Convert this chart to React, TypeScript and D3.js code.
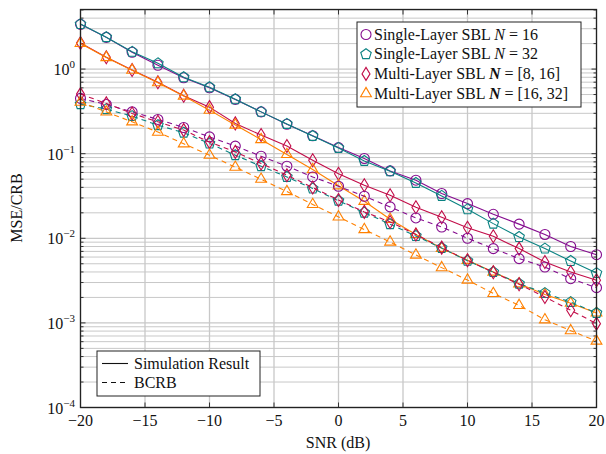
import * as d3 from 'd3'

const snr = [-20, -18, -16, -14, -12, -10, -8, -6, -4, -2, 0, 2, 4, 6, 8, 10, 12, 14, 16, 18, 20]

// simulation results (solid)
const sl16Sim = [3.38, 2.37, 1.58, 1.11, 0.789, 0.601, 0.438, 0.312, 0.223, 0.163, 0.118, 0.0878, 0.0626, 0.0486, 0.0338, 0.0257, 0.0192, 0.0147, 0.0111, 0.0080, 0.0064]
const sl32Sim = [3.40, 2.38, 1.60, 1.17, 0.80, 0.61, 0.44, 0.312, 0.225, 0.162, 0.117, 0.082, 0.062, 0.0451, 0.0317, 0.0220, 0.0149, 0.01035, 0.00755, 0.00539, 0.00388]
const ml816Sim = [2.03, 1.38, 0.975, 0.70, 0.485, 0.355, 0.228, 0.166, 0.123, 0.0838, 0.058, 0.0424, 0.0323, 0.0233, 0.0177, 0.0133, 0.01056, 0.00755, 0.00525, 0.00399, 0.00319]
const ml1632Sim = [2.01, 1.37, 0.97, 0.69, 0.48, 0.327, 0.218, 0.147, 0.098, 0.065, 0.0418, 0.0274, 0.0168, 0.0111, 0.00762, 0.0055, 0.00399, 0.0029, 0.00217, 0.00171, 0.00131]

// BCRB (dashed)
const sl16Crb = [0.450, 0.382, 0.312, 0.254, 0.204, 0.158, 0.123, 0.0934, 0.0711, 0.0531, 0.0412, 0.0314, 0.0235, 0.0174, 0.0136, 0.0100, 0.00755, 0.00575, 0.00457, 0.00333, 0.00261]
const sl32Crb = [0.385, 0.336, 0.278, 0.217, 0.177, 0.132, 0.096, 0.0711, 0.0531, 0.0387, 0.0278, 0.0201, 0.0147, 0.01064, 0.00767, 0.00542, 0.00399, 0.00291, 0.00225, 0.00176, 0.00131]
const ml816Crb = [0.506, 0.393, 0.299, 0.238, 0.190, 0.137, 0.105, 0.0766, 0.0557, 0.0398, 0.0284, 0.0205, 0.0156, 0.0111, 0.00776, 0.00549, 0.00396, 0.00286, 0.00202, 0.00141, 0.00098]
const ml1632Crb = [0.407, 0.312, 0.238, 0.180, 0.131, 0.096, 0.0692, 0.0499, 0.0357, 0.0251, 0.0179, 0.0127, 0.00904, 0.00634, 0.0045, 0.00321, 0.00223, 0.00161, 0.00109, 0.00081, 0.00061]

const xTicks = [-20, -15, -10, -5, 0, 5, 10, 15, 20]
const yDecades = [-4, -3, -2, -1, 0]

const VIOLET = '#850c8f'
const TEAL = '#0a8282'
const CRIMSON = '#c20c48'
const ORANGE = '#ff8000'

const FONT = '"Liberation Serif", "Times New Roman", serif'

type Marker = 'circle' | 'pentagon' | 'diamond' | 'triangle'

const series: { values: number[]; color: string; dashed: boolean; marker: Marker }[] = [
  { values: sl16Sim, color: VIOLET, dashed: false, marker: 'circle' },
  { values: sl32Sim, color: TEAL, dashed: false, marker: 'pentagon' },
  { values: ml816Sim, color: CRIMSON, dashed: false, marker: 'diamond' },
  { values: ml1632Sim, color: ORANGE, dashed: false, marker: 'triangle' },
  { values: sl16Crb, color: VIOLET, dashed: true, marker: 'circle' },
  { values: sl32Crb, color: TEAL, dashed: true, marker: 'pentagon' },
  { values: ml816Crb, color: CRIMSON, dashed: true, marker: 'diamond' },
  { values: ml1632Crb, color: ORANGE, dashed: true, marker: 'triangle' },
]

function markerPath(m: Marker) {
  if (m === 'circle') return 'M5,0A5,5 0 1,1 -5,0A5,5 0 1,1 5,0Z'
  if (m === 'diamond') return 'M0,-6.5L4,0L0,6.5L-4,0Z'
  if (m === 'triangle') return 'M0,-6.2L5.4,3.1L-5.4,3.1Z'
  const pts = d3.range(5).map(k => {
    const a = (-90 + 72 * k) * Math.PI / 180
    return [5.5 * Math.cos(a), 5.5 * Math.sin(a)]
  })
  return 'M' + pts.map(p => p[0].toFixed(2) + ',' + p[1].toFixed(2)).join('L') + 'Z'
}

export default function App() {
  const left = 80.5, right = 596.5, top = 9.5, bottom = 407.5
  const x = d3.scaleLinear().domain([-20, 20]).range([left, right])
  const y = d3.scaleLog().domain([1e-4, 5.06]).range([bottom, top])

  // minor grid values 2..9 x 10^d
  const minor: number[] = []
  yDecades.forEach(d => {
    for (let k = 2; k <= 9; k++) {
      const v = k * Math.pow(10, d)
      if (v < 5.06) minor.push(v)
    }
  })

  const line = d3.line<number>().x((_, i) => x(snr[i])).y(v => y(v))

  return (
    <svg width={606} height={454} style={{ position: 'absolute', left: 0, top: 0, background: '#fff' }}
      fontFamily={FONT}>
      <rect width={606} height={454} fill="#fff" />
      {/* grid */}
      <g stroke="#c8c8c8" strokeWidth={1}>
        {minor.map(v => (
          <line key={'m' + v} x1={left} x2={right} y1={y(v)} y2={y(v)} />
        ))}
        {yDecades.map(d => (
          <line key={'d' + d} x1={left} x2={right} y1={y(Math.pow(10, d))} y2={y(Math.pow(10, d))} strokeWidth={1.3} />
        ))}
        {xTicks.map(t => (
          <line key={'x' + t} x1={x(t)} x2={x(t)} y1={top} y2={bottom} strokeWidth={1.3} />
        ))}
      </g>
      {/* ticks */}
      <g stroke="#333" strokeWidth={1}>
        {xTicks.map(t => (
          <g key={'xt' + t}>
            <line x1={x(t)} x2={x(t)} y1={bottom} y2={bottom - 5} />
            <line x1={x(t)} x2={x(t)} y1={top} y2={top + 5} />
          </g>
        ))}
        {yDecades.map(d => (
          <g key={'yt' + d}>
            <line x1={left} x2={left + 5} y1={y(Math.pow(10, d))} y2={y(Math.pow(10, d))} />
            <line x1={right} x2={right - 5} y1={y(Math.pow(10, d))} y2={y(Math.pow(10, d))} />
          </g>
        ))}
        {minor.map(v => (
          <g key={'ym' + v}>
            <line x1={left} x2={left + 3} y1={y(v)} y2={y(v)} />
            <line x1={right} x2={right - 3} y1={y(v)} y2={y(v)} />
          </g>
        ))}
      </g>
      {/* series */}
      {series.map((s, si) => (
        <g key={si}>
          <path d={line(s.values) || ''} fill="none" stroke={s.color} strokeWidth={1.1}
            strokeDasharray={s.dashed ? '5,4' : undefined} />
          {s.values.map((v, i) => (
            <path key={i} d={markerPath(s.marker)} transform={`translate(${x(snr[i])},${y(v)})`}
              fill="none" stroke={s.color} strokeWidth={1.1} />
          ))}
        </g>
      ))}
      {/* frame */}
      <rect x={left} y={top} width={right - left} height={bottom - top} fill="none" stroke="#222" strokeWidth={1.3} />
      {/* x tick labels */}
      <g fontSize={16} textAnchor="middle" fill="#111">
        {xTicks.map(t => (
          <text key={'xl' + t} x={x(t)} y={426}>{t < 0 ? '\u2212' + Math.abs(t) : String(t)}</text>
        ))}
      </g>
      {/* y tick labels */}
      <g fontSize={16} textAnchor="end" fill="#111">
        {yDecades.map(d => (
          <text key={'yl' + d} x={75} y={y(Math.pow(10, d)) + 6}>
            <tspan>10</tspan>
            <tspan dy={-7} fontSize={11}>{d < 0 ? '\u2212' + Math.abs(d) : String(d)}</tspan>
          </text>
        ))}
      </g>
      <text x={338} y={448} fontSize={16} textAnchor="middle" fill="#111">SNR (dB)</text>
      <text transform="translate(22,208) rotate(-90)" fontSize={16} textAnchor="middle" fill="#111">MSE/CRB</text>
      {/* top-right legend */}
      <g>
        <rect x={357} y={22} width={224} height={85} fill="#fff" stroke="#222" strokeWidth={1} />
        {[
          { m: 'circle' as Marker, c: VIOLET, bold: false, val: '16' },
          { m: 'pentagon' as Marker, c: TEAL, bold: false, val: '32' },
          { m: 'diamond' as Marker, c: CRIMSON, bold: true, val: '[8, 16]' },
          { m: 'triangle' as Marker, c: ORANGE, bold: true, val: '[16, 32]' },
        ].map((e, i) => {
          const cy = 34.5 + i * 19.7
          return (
            <g key={'lg' + i}>
              <path d={markerPath(e.m)} transform={`translate(366,${cy})`} fill="none" stroke={e.c} strokeWidth={1.1} />
              <text x={374} y={cy + 5} fontSize={16} fill="#111">
                {i < 2 ? 'Single-Layer SBL ' : 'Multi-Layer SBL '}
                <tspan fontStyle="italic" fontWeight={e.bold ? 'bold' : 'normal'}>N</tspan>
                {' = ' + e.val}
              </text>
            </g>
          )
        })}
      </g>
      {/* bottom-left legend */}
      <g>
        <rect x={97} y={351} width={163} height={45} fill="#fff" stroke="#222" strokeWidth={1} />
        <line x1={102} x2={128} y1={363.5} y2={363.5} stroke="#111" strokeWidth={1.1} />
        <text x={134} y={368.5} fontSize={16} fill="#111">Simulation Result</text>
        <line x1={102} x2={128} y1={382.5} y2={382.5} stroke="#111" strokeWidth={1.1} strokeDasharray="5,4" />
        <text x={134} y={387.5} fontSize={16} fill="#111">BCRB</text>
      </g>
    </svg>
  )
}
